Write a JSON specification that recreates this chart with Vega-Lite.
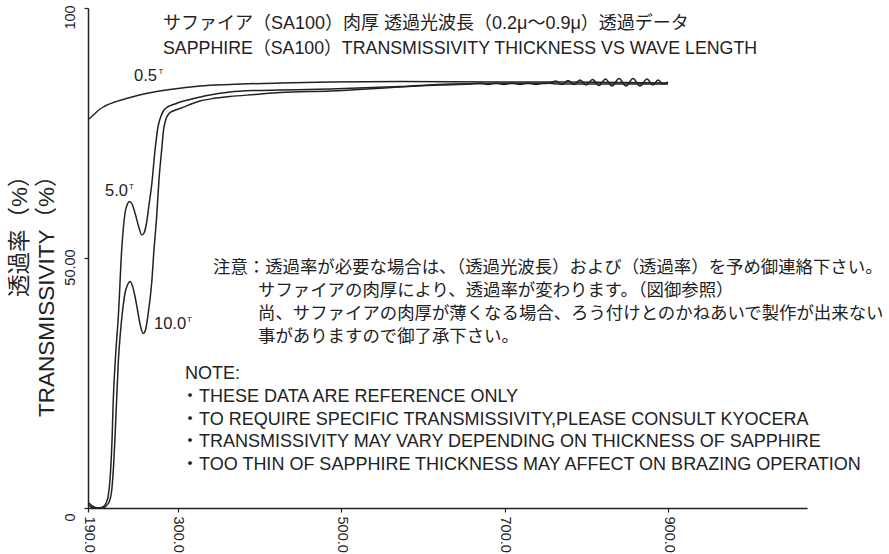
{
  "$schema": "https://vega.github.io/schema/vega-lite/v6.json",
  "width": 719,
  "height": 500,
  "autosize": {"type": "none"},
  "padding": {"left": 88, "top": 8, "right": 82, "bottom": 46},
  "background": "white",
  "config": {
    "view": {"stroke": null},
    "font": "Liberation Sans, Noto Sans CJK JP",
    "axis": {
      "domainColor": "#222", "domainWidth": 1.5, "tickColor": "#222", "tickWidth": 1.2, "tickSize": 4,
      "grid": false, "labelFont": "Liberation Sans", "labelFontSize": 14.5, "labelColor": "#222",
      "labelFlush": false, "labelOverlap": false,
      "titleColor": "#222", "titleFont": "Liberation Sans, Noto Sans CJK JP", "titleFontWeight": "normal"
    }
  },
  "datasets": {
    "curves": [
      {"c": "0.5", "wl": 191.2, "pct": 77.8}, {"c": "0.5", "wl": 197.3, "pct": 78.7}, {"c": "0.5", "wl": 204.7, "pct": 79.8},
      {"c": "0.5", "wl": 210.8, "pct": 80.4}, {"c": "0.5", "wl": 223.0, "pct": 81.2}, {"c": "0.5", "wl": 241.4, "pct": 82.1},
      {"c": "0.5", "wl": 260.9, "pct": 82.9}, {"c": "0.5", "wl": 290.3, "pct": 83.7}, {"c": "0.5", "wl": 327.0, "pct": 84.4},
      {"c": "0.5", "wl": 363.7, "pct": 84.7}, {"c": "0.5", "wl": 424.9, "pct": 85.0}, {"c": "0.5", "wl": 486.0, "pct": 85.2},
      {"c": "0.5", "wl": 571.7, "pct": 85.3}, {"c": "0.5", "wl": 694.0, "pct": 85.2}, {"c": "0.5", "wl": 767.4, "pct": 85.2},
      {"c": "0.5", "wl": 840.8, "pct": 85.1}, {"c": "0.5", "wl": 899.5, "pct": 85.0},

      {"c": "5.0", "wl": 191.2, "pct": 1.0}, {"c": "5.0", "wl": 196.1, "pct": 0.3}, {"c": "5.0", "wl": 202.2, "pct": 0.0},
      {"c": "5.0", "wl": 208.3, "pct": 0.2}, {"c": "5.0", "wl": 212.0, "pct": 1.0}, {"c": "5.0", "wl": 214.5, "pct": 2.2},
      {"c": "5.0", "wl": 216.9, "pct": 5.6}, {"c": "5.0", "wl": 219.4, "pct": 13.6}, {"c": "5.0", "wl": 220.9, "pct": 21.6},
      {"c": "5.0", "wl": 224.2, "pct": 31.6}, {"c": "5.0", "wl": 227.1, "pct": 38.3}, {"c": "5.0", "wl": 231.2, "pct": 51.6},
      {"c": "5.0", "wl": 235.3, "pct": 59.0}, {"c": "5.0", "wl": 238.3, "pct": 60.8}, {"c": "5.0", "wl": 240.5, "pct": 61.3},
      {"c": "5.0", "wl": 243.8, "pct": 60.8}, {"c": "5.0", "wl": 247.5, "pct": 59.0}, {"c": "5.0", "wl": 251.8, "pct": 56.4},
      {"c": "5.0", "wl": 255.7, "pct": 54.6}, {"c": "5.0", "wl": 258.5, "pct": 55.0}, {"c": "5.0", "wl": 261.8, "pct": 57.2},
      {"c": "5.0", "wl": 264.6, "pct": 60.6}, {"c": "5.0", "wl": 267.9, "pct": 64.6}, {"c": "5.0", "wl": 272.0, "pct": 71.6},
      {"c": "5.0", "wl": 275.6, "pct": 76.2}, {"c": "5.0", "wl": 279.3, "pct": 78.4}, {"c": "5.0", "wl": 283.0, "pct": 79.6},
      {"c": "5.0", "wl": 288.2, "pct": 80.3}, {"c": "5.0", "wl": 296.4, "pct": 80.8}, {"c": "5.0", "wl": 302.5, "pct": 81.2},
      {"c": "5.0", "wl": 314.8, "pct": 81.7}, {"c": "5.0", "wl": 335.6, "pct": 82.5}, {"c": "5.0", "wl": 363.7, "pct": 83.2},
      {"c": "5.0", "wl": 394.3, "pct": 83.5}, {"c": "5.0", "wl": 424.9, "pct": 83.6}, {"c": "5.0", "wl": 486.0, "pct": 83.8},
      {"c": "5.0", "wl": 571.7, "pct": 84.3}, {"c": "5.0", "wl": 632.9, "pct": 84.8}, {"c": "5.0", "wl": 694.0, "pct": 84.9},
      {"c": "5.0", "wl": 746.6, "pct": 84.9}, {"c": "5.0", "wl": 755.1, "pct": 85.0}, {"c": "5.0", "wl": 762.5, "pct": 85.4},
      {"c": "5.0", "wl": 769.8, "pct": 84.7}, {"c": "5.0", "wl": 777.2, "pct": 85.5}, {"c": "5.0", "wl": 784.5, "pct": 84.7},
      {"c": "5.0", "wl": 791.9, "pct": 85.6}, {"c": "5.0", "wl": 799.2, "pct": 84.6}, {"c": "5.0", "wl": 807.2, "pct": 85.7},
      {"c": "5.0", "wl": 815.1, "pct": 84.5}, {"c": "5.0", "wl": 823.0, "pct": 85.8}, {"c": "5.0", "wl": 831.0, "pct": 84.4},
      {"c": "5.0", "wl": 839.5, "pct": 85.9}, {"c": "5.0", "wl": 848.1, "pct": 84.4}, {"c": "5.0", "wl": 856.7, "pct": 85.9},
      {"c": "5.0", "wl": 865.2, "pct": 84.4}, {"c": "5.0", "wl": 873.8, "pct": 85.8}, {"c": "5.0", "wl": 881.1, "pct": 84.6},
      {"c": "5.0", "wl": 887.3, "pct": 85.6}, {"c": "5.0", "wl": 893.4, "pct": 84.8}, {"c": "5.0", "wl": 899.5, "pct": 85.2},

      {"c": "10.0", "wl": 191.2, "pct": 0.6}, {"c": "10.0", "wl": 194.9, "pct": 0.1}, {"c": "10.0", "wl": 201.0, "pct": 0.0},
      {"c": "10.0", "wl": 208.3, "pct": 0.0}, {"c": "10.0", "wl": 213.2, "pct": 0.6}, {"c": "10.0", "wl": 216.5, "pct": 1.5},
      {"c": "10.0", "wl": 219.0, "pct": 3.5}, {"c": "10.0", "wl": 221.3, "pct": 8.5}, {"c": "10.0", "wl": 223.3, "pct": 15.0},
      {"c": "10.0", "wl": 225.0, "pct": 21.6}, {"c": "10.0", "wl": 227.2, "pct": 29.6}, {"c": "10.0", "wl": 229.6, "pct": 35.0},
      {"c": "10.0", "wl": 232.4, "pct": 39.6}, {"c": "10.0", "wl": 235.3, "pct": 43.0}, {"c": "10.0", "wl": 238.3, "pct": 44.6},
      {"c": "10.0", "wl": 241.4, "pct": 45.3}, {"c": "10.0", "wl": 244.4, "pct": 44.4}, {"c": "10.0", "wl": 247.5, "pct": 42.3},
      {"c": "10.0", "wl": 251.2, "pct": 39.0}, {"c": "10.0", "wl": 254.2, "pct": 36.4}, {"c": "10.0", "wl": 257.6, "pct": 34.9},
      {"c": "10.0", "wl": 260.3, "pct": 35.6}, {"c": "10.0", "wl": 263.4, "pct": 38.6}, {"c": "10.0", "wl": 267.9, "pct": 45.0},
      {"c": "10.0", "wl": 270.7, "pct": 51.6}, {"c": "10.0", "wl": 274.0, "pct": 58.3}, {"c": "10.0", "wl": 276.8, "pct": 65.6},
      {"c": "10.0", "wl": 280.1, "pct": 71.6}, {"c": "10.0", "wl": 282.4, "pct": 75.6}, {"c": "10.0", "wl": 285.4, "pct": 77.8},
      {"c": "10.0", "wl": 289.1, "pct": 78.9}, {"c": "10.0", "wl": 294.0, "pct": 79.4}, {"c": "10.0", "wl": 302.5, "pct": 79.9},
      {"c": "10.0", "wl": 327.0, "pct": 81.4}, {"c": "10.0", "wl": 342.9, "pct": 81.9}, {"c": "10.0", "wl": 363.7, "pct": 82.3},
      {"c": "10.0", "wl": 394.3, "pct": 82.7}, {"c": "10.0", "wl": 424.9, "pct": 83.1}, {"c": "10.0", "wl": 486.0, "pct": 83.4},
      {"c": "10.0", "wl": 571.7, "pct": 84.2}, {"c": "10.0", "wl": 620.6, "pct": 84.6}, {"c": "10.0", "wl": 657.3, "pct": 84.8},
      {"c": "10.0", "wl": 669.5, "pct": 85.0}, {"c": "10.0", "wl": 679.3, "pct": 84.7}, {"c": "10.0", "wl": 689.1, "pct": 85.0},
      {"c": "10.0", "wl": 698.9, "pct": 84.7}, {"c": "10.0", "wl": 708.7, "pct": 85.0}, {"c": "10.0", "wl": 718.4, "pct": 84.7},
      {"c": "10.0", "wl": 728.2, "pct": 85.0}, {"c": "10.0", "wl": 738.0, "pct": 84.7}, {"c": "10.0", "wl": 747.8, "pct": 85.0},
      {"c": "10.0", "wl": 767.4, "pct": 84.8}, {"c": "10.0", "wl": 816.3, "pct": 84.8}, {"c": "10.0", "wl": 865.2, "pct": 84.8},
      {"c": "10.0", "wl": 899.5, "pct": 84.8}
    ],
    "titlejp": [
      {"wl": 281.7, "pct": 96.8, "t": "サファイア（SA100）肉厚 透過光波長（0.2μ～0.9μ）透過データ"}
    ],
    "titleen": [
      {"wl": 281.7, "pct": 91.8, "t": "SAPPHIRE（SA100）TRANSMISSIVITY THICKNESS VS WAVE LENGTH"}
    ],
    "jpnotes": [
      {"wl": 342.9, "pct": 48.0, "t": "注意：透過率が必要な場合は、（透過光波長）および（透過率）を予め御連絡下さい。"},
      {"wl": 398.0, "pct": 43.4, "t": "サファイアの肉厚により、透過率が変わります。（図御参照）"},
      {"wl": 398.0, "pct": 38.8, "t": "尚、サファイアの肉厚が薄くなる場合、ろう付けとのかねあいで製作が出来ない"},
      {"wl": 398.0, "pct": 34.2, "t": "事がありますので御了承下さい。"}
    ],
    "ennotes": [
      {"wl": 308.7, "pct": 26.8, "t": "NOTE:"},
      {"wl": 303.8, "pct": 22.2, "t": "・THESE DATA ARE REFERENCE ONLY"},
      {"wl": 303.8, "pct": 17.7, "t": "・TO REQUIRE SPECIFIC TRANSMISSIVITY,PLEASE CONSULT KYOCERA"},
      {"wl": 303.8, "pct": 13.2, "t": "・TRANSMISSIVITY MAY VARY DEPENDING ON THICKNESS OF SAPPHIRE"},
      {"wl": 303.8, "pct": 8.7, "t": "・TOO THIN OF SAPPHIRE THICKNESS MAY AFFECT ON BRAZING OPERATION"}
    ],
    "labels": [
      {"wl": 246.3, "pct": 86.5, "t": "0.5"},
      {"wl": 210.8, "pct": 63.5, "t": "5.0"},
      {"wl": 270.7, "pct": 36.8, "t": "10.0"}
    ],
    "sups": [
      {"wl": 276.2, "pct": 87.3, "t": "T"},
      {"wl": 240.2, "pct": 64.3, "t": "T"},
      {"wl": 311.1, "pct": 37.6, "t": "T"}
    ]
  },
  "encoding": {
    "x": {
      "field": "wl", "type": "quantitative",
      "scale": {"domain": [190, 1069.5], "nice": false, "zero": false},
      "axis": {"values": [190, 300, 500, 700, 900], "format": ".1f", "labelAngle": 90, "labelAlign": "left", "labelBaseline": "middle", "labelPadding": 4, "title": null}
    },
    "y": {
      "field": "pct", "type": "quantitative",
      "scale": {"domain": [0, 100], "nice": false, "zero": false},
      "axis": {
        "values": [0, 50, 100],
        "labelExpr": "datum.value == 50 ? '50.00' : (datum.value == 100 ? '100' : '0')",
        "labelAngle": 270, "labelAlign": "center", "labelBaseline": "bottom", "labelPadding": 7, "labelOffset": 9,
        "title": ["透過率（%）", "TRANSMISSIVITY（%）"],
        "titleAngle": 270, "titleAlign": "right", "titleBaseline": "alphabetic",
        "titleX": -62, "titleY": 156, "titleFontSize": 22.5, "titleLineHeight": 27
      }
    }
  },
  "layer": [
    {
      "data": {"name": "curves"},
      "mark": {"type": "line", "color": "#222", "strokeWidth": 1.5, "interpolate": "monotone"},
      "encoding": {"detail": {"field": "c", "type": "nominal"}, "order": {"field": "wl", "type": "quantitative"}}
    },
    {
      "data": {"name": "titlejp"},
      "mark": {"type": "text", "align": "left", "baseline": "middle", "fontSize": 18, "color": "#222"},
      "encoding": {"text": {"field": "t", "type": "nominal"}}
    },
    {
      "data": {"name": "titleen"},
      "mark": {"type": "text", "align": "left", "baseline": "middle", "fontSize": 17.8, "color": "#222"},
      "encoding": {"text": {"field": "t", "type": "nominal"}}
    },
    {
      "data": {"name": "jpnotes"},
      "mark": {"type": "text", "align": "left", "baseline": "middle", "fontSize": 17.4, "color": "#222"},
      "encoding": {"text": {"field": "t", "type": "nominal"}}
    },
    {
      "data": {"name": "ennotes"},
      "mark": {"type": "text", "align": "left", "baseline": "middle", "fontSize": 18, "color": "#222"},
      "encoding": {"text": {"field": "t", "type": "nominal"}}
    },
    {
      "data": {"name": "labels"},
      "mark": {"type": "text", "align": "left", "baseline": "middle", "fontSize": 16.5, "color": "#222"},
      "encoding": {"text": {"field": "t", "type": "nominal"}}
    },
    {
      "data": {"name": "sups"},
      "mark": {"type": "text", "align": "left", "baseline": "middle", "fontSize": 8, "color": "#222"},
      "encoding": {"text": {"field": "t", "type": "nominal"}}
    }
  ]
}
